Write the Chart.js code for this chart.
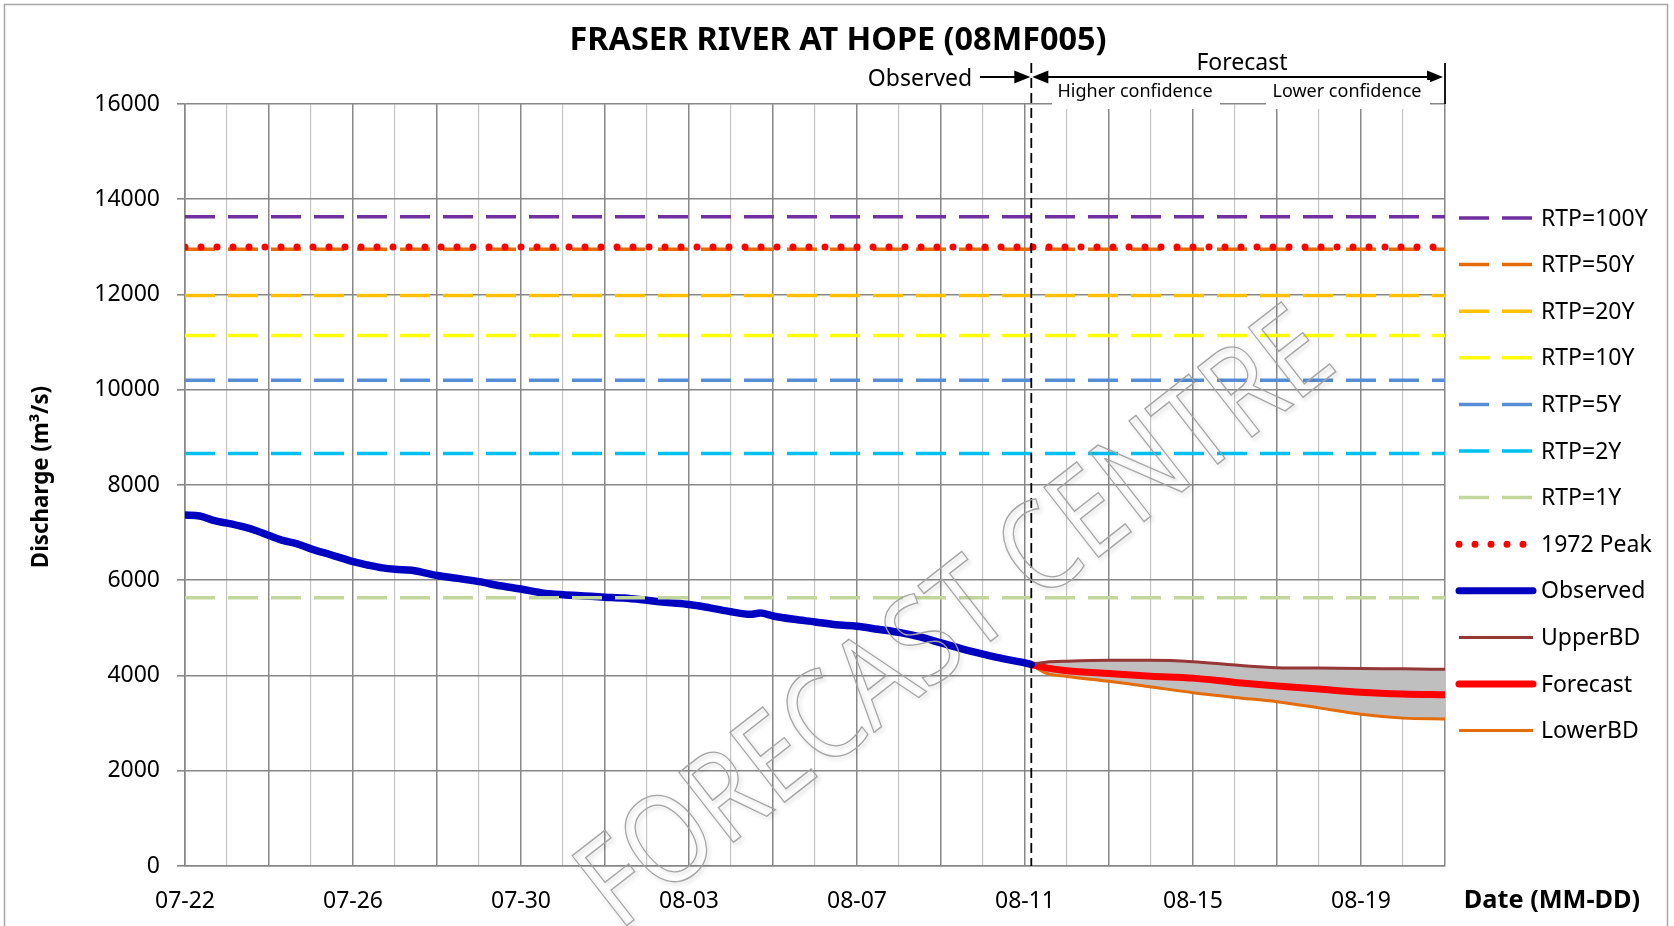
<!DOCTYPE html>
<html>
<head>
<meta charset="utf-8">
<title>Fraser River at Hope (08MF005)</title>
<script src="https://cdn.jsdelivr.net/npm/chart.js@4.4.0/dist/chart.umd.min.js"></script>
<style>
  html, body { margin: 0; padding: 0; background: #fff; }
  #wrap { width: 1674px; height: 926px; }
</style>
</head>
<body>
<div id="wrap"><canvas id="hopeChart" width="1674" height="926"></canvas></div>
<script>
// days since 07-22 on the x axis, labels every 4 days
const dayCount = 30;
const dateLabels = ['07-22', '07-26', '07-30', '08-03', '08-07', '08-11', '08-15', '08-19'];

// return period thresholds (m3/s)
const rtpNames = ['RTP=100Y', 'RTP=50Y', 'RTP=20Y', 'RTP=10Y', 'RTP=5Y', 'RTP=2Y', 'RTP=1Y'];
const rtpValues = [13630, 12950, 11980, 11140, 10200, 8660, 5630];
const rtpColors = ['#7030A0', '#E46C0A', '#FFC000', '#FFFF00', '#558ED5', '#00C0F0', '#C3D69B'];
const peak1972 = 13000;

// observed discharge
const obsDays = [0, 0.35, 0.7, 1, 1.4, 1.7, 2, 2.35, 2.65, 3, 3.45, 3.75, 4, 4.35, 4.7, 5, 5.4, 6, 6.5, 7,
  7.5, 8, 8.5, 9, 9.5, 10, 10.45, 11, 11.5, 12, 12.5, 13, 13.45, 13.7, 14, 14.5, 15, 15.5, 16, 16.5,
  17, 17.5, 18, 18.5, 19, 19.5, 20, 20.15];
const obsFlow = [7370, 7350, 7250, 7200, 7120, 7040, 6940, 6830, 6770, 6660, 6540, 6460, 6390, 6320, 6260, 6230, 6210, 6100, 6040, 5970,
  5885, 5815, 5735, 5695, 5670, 5645, 5625, 5578, 5530, 5490, 5420, 5340, 5285, 5310, 5250, 5180, 5125, 5065, 5035, 4970,
  4905, 4810, 4685, 4560, 4450, 4350, 4265, 4230];

// forecast with upper / lower bounds
const fcDays = [20.15, 20.5, 21, 22, 23, 24, 25, 26, 27, 28, 29, 30];
const fcUpper = [4240, 4280, 4300, 4320, 4320, 4290, 4220, 4165, 4155, 4145, 4140, 4130];
const fcMid = [4230, 4160, 4100, 4040, 3985, 3945, 3855, 3780, 3715, 3650, 3612, 3595];
const fcLower = [4230, 4050, 3980, 3880, 3760, 3640, 3540, 3450, 3320, 3185, 3105, 3085];

const FONT = "'Noto Sans', sans-serif";
const darkGrid = '#878787';
const lightGrid = '#c6c6c6';

const toPts = (xs, ys) => xs.map((d, i) => ({ x: d, y: ys[i] }));
const flat = v => [{ x: 0, y: v }, { x: dayCount, y: v }];

const datasets = rtpNames.map((name, i) => ({
  label: name,
  data: flat(rtpValues[i]),
  borderColor: rtpColors[i],
  borderWidth: 3.5,
  borderDash: [30, 13],
  pointRadius: 0,
  fill: false
}));
datasets.push({
  label: '1972 Peak', data: flat(peak1972), borderColor: '#FF0000', borderWidth: 7,
  borderDash: [0, 16], borderCapStyle: 'round', pointRadius: 0, fill: false, order: -1
});
datasets.push({
  label: 'Observed', data: toPts(obsDays, obsFlow), borderColor: '#0000C0', borderWidth: 7.5,
  borderCapStyle: 'round', cubicInterpolationMode: 'monotone', pointRadius: 0, fill: false
});
datasets.push({
  label: 'UpperBD', data: toPts(fcDays, fcUpper), borderColor: '#953735', borderWidth: 3,
  cubicInterpolationMode: 'monotone', pointRadius: 0, fill: '+2', backgroundColor: '#bfbfbf'
});
datasets.push({
  label: 'Forecast', data: toPts(fcDays, fcMid), borderColor: '#FF0000', borderWidth: 7,
  borderCapStyle: 'round', cubicInterpolationMode: 'monotone', pointRadius: 0, fill: false
});
datasets.push({
  label: 'LowerBD', data: toPts(fcDays, fcLower), borderColor: '#E46C0A', borderWidth: 3,
  cubicInterpolationMode: 'monotone', pointRadius: 0, fill: false
});

function fitFont(ctx, text, weight, target) {
  ctx.font = weight + ' 100px ' + FONT;
  const size = 100 * target / ctx.measureText(text).width;
  ctx.font = weight + ' ' + size.toFixed(1) + 'px ' + FONT;
}

function arrowHead(ctx, tipX, y, dir) {
  ctx.beginPath();
  ctx.moveTo(tipX, y);
  ctx.lineTo(tipX - dir * 16, y - 6.5);
  ctx.lineTo(tipX - dir * 16, y + 6.5);
  ctx.closePath();
  ctx.fill();
}

// everything Excel draws around the plot: titles, annotation, legend, watermark
const decor = {
  id: 'decor',
  afterDraw(chart) {
    const { ctx, chartArea: ca, scales } = chart;
    const divX = scales.x.getPixelForValue(fcDays[0]);
    ctx.save();

    // observed / forecast divider
    ctx.strokeStyle = '#000';
    ctx.lineWidth = 1.8;
    ctx.setLineDash([10, 5]);
    ctx.beginPath();
    ctx.moveTo(divX, 63);
    ctx.lineTo(divX, ca.bottom);
    ctx.stroke();
    ctx.setLineDash([]);

    ctx.fillStyle = '#000';
    ctx.textAlign = 'center';
    ctx.textBaseline = 'middle';

    // main title
    fitFont(ctx, 'FRASER RIVER AT HOPE (08MF005)', 'bold', 538);
    ctx.fillText('FRASER RIVER AT HOPE (08MF005)', 838, 41);

    // axis titles
    ctx.save();
    ctx.translate(42, 477);
    ctx.rotate(-Math.PI / 2);
    fitFont(ctx, 'Discharge (m³/s)', 'bold', 182);
    ctx.fillText('Discharge (m³/s)', 0, 0);
    ctx.restore();
    fitFont(ctx, 'Date (MM-DD)', 'bold', 176);
    ctx.fillText('Date (MM-DD)', 1552, 901);

    // Observed -> | <- Forecast -> annotation
    ctx.font = '23px ' + FONT;
    ctx.fillText('Observed', 920, 79);
    ctx.fillText('Forecast', 1242, 63);
    ctx.lineWidth = 1.8;
    ctx.beginPath();
    ctx.moveTo(980, 77);
    ctx.lineTo(divX - 4, 77);
    ctx.moveTo(divX + 4, 77);
    ctx.lineTo(ca.right - 4, 77);
    ctx.stroke();
    arrowHead(ctx, divX - 1, 77, 1);
    arrowHead(ctx, divX + 1, 77, -1);
    arrowHead(ctx, ca.right - 2, 77, 1);
    ctx.beginPath();
    ctx.moveTo(ca.right, 63);
    ctx.lineTo(ca.right, ca.top);
    ctx.stroke();

    ctx.fillStyle = '#fff';
    ctx.fillRect(1052, 80, 168, 29);
    ctx.fillRect(1266, 80, 164, 29);
    ctx.fillStyle = '#000';
    ctx.font = '18px ' + FONT;
    ctx.fillText('Higher confidence', 1135, 92);
    ctx.fillText('Lower confidence', 1347, 92);

    // legend
    ctx.textAlign = 'left';
    ctx.font = '23px ' + FONT;
    chart.data.datasets.forEach((ds, i) => {
      const yy = 218 + i * 46.6;
      ctx.save();
      ctx.strokeStyle = ds.borderColor;
      ctx.lineWidth = Math.min(ds.borderWidth, 7);
      ctx.setLineDash(ds.borderDash || []);
      ctx.lineCap = ds.borderCapStyle || 'butt';
      ctx.beginPath();
      ctx.moveTo(1459, yy);
      ctx.lineTo(1533, yy);
      ctx.stroke();
      ctx.restore();
      ctx.fillText(ds.label, 1541, yy + 1);
    });

    // watermark
    ctx.save();
    ctx.translate(958, 622);
    ctx.rotate(-38 * Math.PI / 180);
    ctx.scale(0.84, 1);
    ctx.font = '124px ' + FONT;
    ctx.textAlign = 'center';
    ctx.shadowColor = 'rgba(0,0,0,0.22)';
    ctx.shadowBlur = 4;
    ctx.shadowOffsetX = 2;
    ctx.shadowOffsetY = 2;
    ctx.strokeStyle = '#a4a4a4';
    ctx.lineWidth = 1.4;
    ctx.strokeText('FORECAST CENTRE', 0, 0);
    ctx.restore();

    // outer frame
    ctx.strokeStyle = '#a6a6a6';
    ctx.lineWidth = 1.5;
    ctx.strokeRect(4.5, 4.5, 1663, 940);
    ctx.restore();
  }
};

Chart.defaults.font.family = FONT;
Chart.defaults.color = '#000';

new Chart(document.getElementById('hopeChart'), {
  type: 'line',
  data: { datasets },
  options: {
    responsive: false,
    animation: false,
    layout: { padding: { top: 104, right: 229, bottom: 0, left: 0 } },
    plugins: {
      legend: { display: false },
      title: { display: false },
      tooltip: { enabled: false },
      filler: { drawTime: 'beforeDatasetsDraw' }
    },
    scales: {
      x: {
        type: 'linear',
        min: 0,
        max: dayCount,
        afterFit: s => { s.height = 60; },
        ticks: {
          stepSize: 1,
          autoSkip: false,
          maxRotation: 0,
          padding: 22,
          font: { size: 23 },
          callback: v => (v % 4 === 0 ? dateLabels[v / 4] : '')
        },
        grid: {
          drawTicks: false,
          color: c => (c.tick && c.tick.value % 2 === 0 ? darkGrid : lightGrid),
          lineWidth: c => (c.tick && c.tick.value % 2 === 0 ? 1.5 : 1.2)
        },
        border: { color: darkGrid, width: 1.5 }
      },
      y: {
        min: 0,
        max: 16000,
        afterFit: s => { s.width = 185; },
        ticks: { stepSize: 2000, padding: 17, font: { size: 23 }, callback: v => String(v) },
        grid: { color: darkGrid, lineWidth: 1.6, tickLength: 8 },
        border: { color: darkGrid, width: 1.5 }
      }
    }
  },
  plugins: [decor]
});
</script>
</body>
</html>
